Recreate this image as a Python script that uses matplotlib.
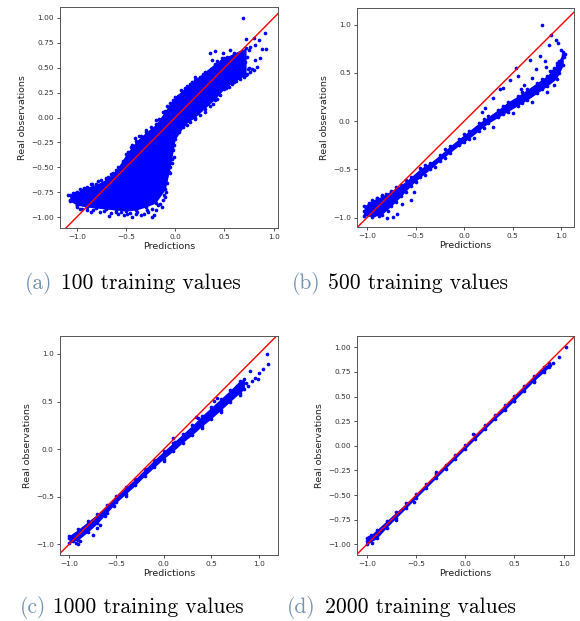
import matplotlib
matplotlib.use("Agg")
import matplotlib.pyplot as plt

# --- panel (a): 100 training values ---------------------------------------
# dense part of the cloud, read off the picture as lower / upper envelope
band_x_a = [-1.07, -1.0, -0.9, -0.8, -0.7, -0.6, -0.5, -0.4, -0.3, -0.2, -0.1,
            -0.05, 0.0, 0.1, 0.2, 0.3, 0.4, 0.5, 0.6, 0.72]
band_lo_a = [-0.84, -0.88, -0.90, -0.91, -0.92, -0.93, -0.94, -0.93, -0.90, -0.86, -0.72,
             -0.50, -0.22, -0.07, 0.0, 0.09, 0.18, 0.29, 0.36, 0.43]
band_hi_a = [-0.78, -0.75, -0.70, -0.67, -0.62, -0.53, -0.37, -0.24, -0.15, -0.07, 0.07,
             0.15, 0.21, 0.30, 0.38, 0.46, 0.54, 0.60, 0.65, 0.70]
# loose points around the cloud
pred_a = [0.69, 0.915, 0.925, 0.88, 0.797, 0.72, 0.847, 0.81, 0.763, 0.746, 0.729, 0.736,
          0.81, 0.712, 0.644, 0.627, 0.56, 0.485, 0.407, 0.356, 0.373, 0.424, 0.478, 0.525,
          0.508, 0.576, 0.66,
          -1.085, -1.07, -1.05, -1.0, -0.966, -0.90, -0.86, -0.80, -0.76, -0.675, -0.60,
          -0.576, -0.52, -0.49, -0.44, -0.39, -0.35, -0.32, -0.288, -0.237, -0.22, -0.19,
          -0.15, -0.13, -0.12, -0.10, -0.09, -0.05, -0.034, -0.017, -0.02,
          -0.41, -0.37, -0.30, -0.45, -0.55, -0.63, -0.70, -0.78, -0.86, -0.95, -1.02,
          -0.20, -0.12, -0.08, -0.02, 0.06, 0.12, 0.17, 0.20, 0.25, 0.30, 0.36, 0.44, 0.50,
          0.58, 0.64,
          0.12, 0.20, 0.30, 0.38, 0.45, 0.55, 0.62, 0.70, 0.76, 0.80, 0.83, 0.75, 0.86,
          # ragged upper-left edge
          -1.04, -0.97, -0.93, -0.85, -0.75, -0.68, -0.65, -0.58, -0.53, -0.48, -0.44,
          -0.35, -0.25, -0.16, -0.06, 0.03, 0.08, 0.15, 0.23, 0.28, 0.34, 0.40, 0.47,
          0.53, 0.62, 0.68,
          # ragged lower-right edge
          -0.17, -0.11, -0.08, -0.06, -0.03, -0.01, 0.04, 0.08, 0.15, 0.25, 0.35, 0.42,
          0.52, 0.58, 0.66, 0.73, 0.78,
          # ragged bottom
          -1.0, -0.95, -0.83, -0.72, -0.65, -0.55, -0.46, -0.40, -0.28, -0.24]
obs_a = [1.0, 0.845, 0.684, 0.684, 0.795, 0.788, 0.778, 0.728, 0.711, 0.677, 0.61, 0.49,
         0.576, 0.56, 0.644, 0.576, 0.677, 0.644, 0.67, 0.644, 0.576, 0.57, 0.593, 0.61,
         0.526, 0.543, 0.51,
         -0.78, -0.83, -0.80, -0.88, -0.916, -0.93, -0.95, -0.90, -0.95, -0.99, -0.95,
         -0.966, -0.98, -0.966, -1.0, -0.95, -0.98, -0.966, -0.93, -1.0, -0.983, -0.93,
         -0.87, -0.90, -0.83, -0.80, -0.75, -0.56, -0.46, -0.40, -0.33,
         -0.21, -0.19, -0.13, -0.30, -0.49, -0.56, -0.61, -0.64, -0.67, -0.73, -0.76,
         -0.03, 0.06, 0.12, 0.18, 0.28, 0.32, 0.36, 0.41, 0.41, 0.45, 0.49, 0.52, 0.55,
         0.58, 0.60,
         -0.08, -0.02, 0.06, 0.14, 0.23, 0.31, 0.37, 0.41, 0.46, 0.48, 0.51, 0.50, 0.60,
         -0.76, -0.72, -0.71, -0.67, -0.63, -0.60, -0.57, -0.50, -0.44, -0.35, -0.28,
         -0.19, -0.10, -0.02, 0.10, 0.22, 0.26, 0.34, 0.39, 0.44, 0.47, 0.52, 0.57,
         0.59, 0.63, 0.67,
         -0.88, -0.78, -0.66, -0.55, -0.42, -0.28, -0.15, -0.10, -0.05, 0.03, 0.12, 0.19,
         0.30, 0.34, 0.39, 0.44, 0.49,
         -0.90, -0.92, -0.93, -0.94, -0.96, -0.95, -0.96, -0.97, -0.95, -0.92]

# --- panel (b): 500 training values ---------------------------------------
band_x_b = [-1.03, -0.95, -0.85, -0.75, -0.65, -0.55, -0.45, -0.35, -0.25, -0.15, -0.05,
            0.05, 0.15, 0.25, 0.35, 0.45, 0.55, 0.65, 0.75, 0.85, 0.95, 1.02]
band_lo_b = [-0.98, -0.99, -0.97, -0.88, -0.78, -0.67, -0.58, -0.50, -0.41, -0.33, -0.25,
             -0.18, -0.10, -0.02, 0.04, 0.10, 0.16, 0.22, 0.29, 0.36, 0.44, 0.58]
band_hi_b = [-0.88, -0.82, -0.78, -0.72, -0.66, -0.58, -0.49, -0.43, -0.35, -0.26, -0.18,
             -0.10, -0.02, 0.05, 0.12, 0.20, 0.26, 0.33, 0.40, 0.47, 0.58, 0.72]
pred_b = [0.80, 0.897, 0.949, 0.87, 0.966, 0.993, 1.017, 1.04, 1.03, 0.98, 0.778, 0.675,
          0.829, 0.538, 0.47, 0.556, 0.737, 0.846, 0.368, 0.40, 0.30, 0.214, 0.18, 0.62,
          0.70, 0.58, 0.88, 0.92, 0.95,
          -0.518, -0.55, -0.638, -0.69, -0.79, -0.73, -0.928, -0.96, -0.997, -1.03, -1.02,
          -0.894, -0.95, -0.90, -0.85, -0.80, -0.40, -0.30, 0.10, 0.30, 0.50, 0.70, 0.85, 0.92,
          # edges of the band
          -0.98, -0.90, -0.70, -0.60, -0.40, -0.20, 0.0, 0.2, 0.4, 0.6, 0.8, 0.9,
          -0.88, -0.78, -0.70, -0.60, -0.50, -0.20, 0.0, 0.2, 0.4, 0.6, 0.8, 0.98]
obs_b = [1.0, 0.89, 0.84, 0.785, 0.81, 0.74, 0.69, 0.70, 0.66, 0.62, 0.674, 0.63,
         0.62, 0.553, 0.425, 0.466, 0.536, 0.56, 0.33, 0.345, 0.24, 0.137, 0.10, 0.38,
         0.45, 0.33, 0.52, 0.55, 0.60,
         -0.733, -0.82, -0.86, -0.958, -1.0, -0.99, -0.975, -0.924, -0.906, -0.93, -0.96,
         -0.837, -0.85, -0.80, -0.77, -0.76, -0.56, -0.48, -0.17, -0.06, 0.08, 0.20, 0.30, 0.38,
         -0.85, -0.80, -0.68, -0.61, -0.45, -0.29, -0.13, 0.02, 0.16, 0.30, 0.44, 0.52,
         -0.98, -0.93, -0.84, -0.73, -0.63, -0.38, -0.22, -0.07, 0.07, 0.19, 0.33, 0.50]

# --- panel (c): 1000 training values --------------------------------------
band_x_c = [-1.0, -0.9, -0.8, -0.7, -0.6, -0.5, -0.4, -0.3, -0.2, -0.1, 0.0,
            0.1, 0.2, 0.3, 0.4, 0.5, 0.6, 0.7, 0.8, 0.85]
band_lo_c = [-0.99, -0.95, -0.87, -0.78, -0.67, -0.56, -0.47, -0.38, -0.28, -0.19, -0.10,
             -0.02, 0.07, 0.15, 0.24, 0.32, 0.41, 0.50, 0.59, 0.63]
band_hi_c = [-0.91, -0.84, -0.76, -0.68, -0.59, -0.49, -0.40, -0.31, -0.21, -0.11, -0.02,
             0.07, 0.16, 0.25, 0.35, 0.44, 0.53, 0.62, 0.72, 0.74]
pred_c = [1.088, 1.095, 1.046, 1.0, 0.99, 0.912, 0.87, 0.887, 0.77, 0.718, 0.56, 0.525,
          0.965, 0.93, 0.84, 0.34, 0.36, 0.10, 0.12,
          -0.93, -0.96, -0.91, -0.88, -1.0, -0.75, -0.70, -0.67, -0.53, -0.62, -0.40,
          0.0, 0.4, 0.6, 0.8]
obs_c = [0.996, 0.90, 0.846, 0.80, 0.734, 0.82, 0.70, 0.66, 0.66, 0.61, 0.54, 0.506,
         0.745, 0.72, 0.64, 0.34, 0.33, 0.12, 0.08,
         -0.99, -0.97, -1.0, -0.97, -0.93, -0.90, -0.83, -0.80, -0.60, -0.70, -0.49,
         -0.12, 0.22, 0.39, 0.57]

# --- panel (d): 2000 training values --------------------------------------
band_x_d = [-1.0, -0.9, -0.8, -0.7, -0.6, -0.5, -0.4, -0.3, -0.2, -0.1, 0.0,
            0.1, 0.2, 0.3, 0.4, 0.5, 0.6, 0.7, 0.8, 0.85]
band_lo_d = [-1.0, -0.94, -0.83, -0.73, -0.63, -0.53, -0.43, -0.33, -0.23, -0.13, -0.03,
             0.07, 0.17, 0.27, 0.36, 0.46, 0.56, 0.66, 0.75, 0.80]
band_hi_d = [-0.94, -0.85, -0.76, -0.67, -0.58, -0.49, -0.39, -0.29, -0.19, -0.09, 0.01,
             0.11, 0.21, 0.31, 0.41, 0.51, 0.61, 0.71, 0.80, 0.84]
pred_d = [1.02, 0.953, 0.89, 0.86, 0.83, 0.80, 0.76, -0.70, -0.52, -0.95, -0.98, -1.0,
          -0.96, 0.08, 0.5, 0.7, -0.3]
obs_d = [1.0, 0.90, 0.84, 0.82, 0.80, 0.77, 0.75, -0.75, -0.57, -0.99, -0.93, -0.97,
         -0.90, 0.12, 0.46, 0.65, -0.27]

captions = ["(a)", "(b)", "(c)", "(d)"]
caption_text = ["100 training values", "500 training values",
                "1000 training values", "2000 training values"]

W, H = 580, 621
fig = plt.figure(figsize=(W / 100, H / 100), dpi=100)


def px_axes(left, top, right, bottom):
    # axes rectangle given in picture pixels
    return fig.add_axes([left / W, 1 - bottom / H, (right - left) / W, (bottom - top) / H])


panels = [
    (px_axes(60, 7, 278, 228), band_x_a, band_lo_a, band_hi_a, pred_a, obs_a,
     (-1.17, 1.044), (-1.11, 1.11), [-1.0, -0.5, 0.0, 0.5, 1.0],
     [-1.0, -0.75, -0.5, -0.25, 0.0, 0.25, 0.5, 0.75, 1.0], "%.2f"),
    (px_axes(357, 8, 574, 227), band_x_b, band_lo_b, band_hi_b, pred_b, obs_b,
     (-1.103, 1.13), (-1.097, 1.173), [-1.0, -0.5, 0.0, 0.5, 1.0],
     [-1.0, -0.5, 0.0, 0.5, 1.0], "%.1f"),
    (px_axes(60, 336, 278, 555), band_x_c, band_lo_c, band_hi_c, pred_c, obs_c,
     (-1.095, 1.204), (-1.112, 1.189), [-1.0, -0.5, 0.0, 0.5, 1.0],
     [-1.0, -0.5, 0.0, 0.5, 1.0], "%.1f"),
    (px_axes(357, 336, 574, 555), band_x_d, band_lo_d, band_hi_d, pred_d, obs_d,
     (-1.101, 1.105), (-1.108, 1.115), [-1.0, -0.5, 0.0, 0.5, 1.0],
     [-1.0, -0.75, -0.5, -0.25, 0.0, 0.25, 0.5, 0.75, 1.0], "%.2f"),
]

for ax, bx, blo, bhi, px, py, xlim, ylim, xt, yt, yfmt in panels:
    ax.fill_between(bx, blo, bhi, color="#0000ff", lw=0)
    # dotted look along the edges of the dense cloud
    ax.scatter(bx, blo, s=7, color="#0000ff", linewidths=0)
    ax.scatter(bx, bhi, s=7, color="#0000ff", linewidths=0)
    ax.scatter(px, py, s=7, color="#0000ff", linewidths=0)
    ax.axline((0, 0), slope=1, color="red", lw=1.0)
    ax.set_xlim(*xlim)
    ax.set_ylim(*ylim)
    ax.set_xticks(xt)
    ax.set_yticks(yt)
    ax.set_xticklabels([("%.1f" % v).replace("-", "\u2212") for v in xt])
    ax.set_yticklabels([(yfmt % v).replace("-", "\u2212") for v in yt])
    ax.tick_params(labelsize=5.3, length=2.5, width=0.6, pad=2, colors="#333333")
    for sp in ax.spines.values():
        sp.set_linewidth(0.7)
        sp.set_color("#555555")
    ax.set_xlabel("Predictions", fontsize=6.8, labelpad=1.5, color="#222222")
    ax.set_ylabel("Real observations", fontsize=6.8, labelpad=3, color="#222222")

# captions under each panel, the letter in grey-blue like the LaTeX subcaption
cap_pos = [(25, 61, 289), (292, 328, 289), (20, 53, 613), (287, 325, 613)]
for (xl, xr, yb), lab, txt in zip(cap_pos, captions, caption_text):
    fig.text(xl / W, 1 - yb / H, lab, family="cmr10", fontsize=15.5,
             color="#7394b4", va="baseline", ha="left")
    fig.text(xr / W, 1 - yb / H, txt, family="cmr10", fontsize=15.5,
             color="black", va="baseline", ha="left")

fig.savefig("out.png", dpi=100)
